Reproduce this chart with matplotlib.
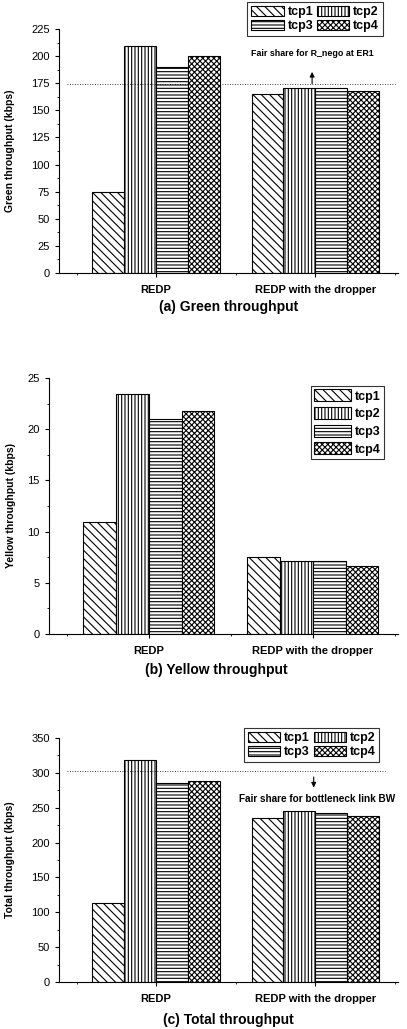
import matplotlib
matplotlib.use('Agg')
import matplotlib.pyplot as plt
import matplotlib.ticker as ticker
import numpy as np

plt.rcParams['font.family'] = ['Liberation Sans', 'DejaVu Sans']
plt.rcParams['hatch.linewidth'] = 0.8

# Data
categories = ['REDP', 'REDP with the dropper']
flows = ['tcp1', 'tcp2', 'tcp3', 'tcp4']

green_vals = [[75, 165], [209, 171], [190, 171], [200, 168]]
yellow_vals = [[10.9, 7.5], [23.4, 7.1], [21.0, 7.1], [21.8, 6.6]]
total_vals = [[113, 235], [319, 245], [285, 242], [289, 238]]

green_fair = 174
total_fair = 302

hatches = ['\\\\\\\\', '|||||', '-----', 'xxxxxx']

fig = plt.figure(figsize=(4.07, 10.29), dpi=100)

ax_a = fig.add_axes([0.145, 0.7347, 0.833, 0.2371])
ax_b = fig.add_axes([0.120, 0.3839, 0.858, 0.2488])
ax_c = fig.add_axes([0.145, 0.0457, 0.833, 0.2371])


def draw_bars(ax, vals, ymax, ystep, ylabel):
    x = np.arange(1, len(categories) + 1)
    w = 0.2
    bars = []
    for i, name in enumerate(flows):
        b = ax.bar(x - 0.3 + i * w, vals[i], width=w, color='white',
                   edgecolor='black', linewidth=0.8, hatch=hatches[i], label=name)
        bars.append(b)
    ax.set_xlim(0.39, 2.52)
    ax.set_ylim(0, ymax)
    ax.set_xticks(x)
    ax.set_xticklabels(categories, fontweight='bold', fontsize=7)
    ax.xaxis.set_minor_locator(ticker.FixedLocator([0.5, 1.5, 2.5]))
    ax.yaxis.set_major_locator(ticker.MultipleLocator(ystep))
    ax.yaxis.set_minor_locator(ticker.AutoMinorLocator(2))
    ax.tick_params(axis='both', which='major', labelsize=8, length=3, width=0.8)
    ax.tick_params(axis='x', which='major', pad=6)
    ax.tick_params(axis='both', which='minor', length=1.5, width=0.6)
    ax.spines['top'].set_visible(False)
    ax.spines['right'].set_visible(False)
    ax.set_ylabel(ylabel, fontweight='bold', fontsize=7.5)
    return bars


bars_a = draw_bars(ax_a, green_vals, 225, 25, 'Green throughput (kbps)')
bars_b = draw_bars(ax_b, yellow_vals, 25, 5, 'Yellow throughput (kbps)')
bars_c = draw_bars(ax_c, total_vals, 350, 50, 'Total throughput (kbps)')

ax_a.yaxis.set_label_coords(-0.13, 0.5)
ax_b.yaxis.set_label_coords(-0.095, 0.5)
ax_c.yaxis.set_label_coords(-0.13, 0.5)

# captions under each panel
ax_a.text(0.50, -0.14, '(a) Green throughput', transform=ax_a.transAxes,
          ha='center', va='center', fontsize=10, fontweight='bold')
ax_b.text(0.48, -0.14, '(b) Yellow throughput', transform=ax_b.transAxes,
          ha='center', va='center', fontsize=10, fontweight='bold')
ax_c.text(0.50, -0.156, '(c) Total throughput', transform=ax_c.transAxes,
          ha='center', va='center', fontsize=10, fontweight='bold')

# Fair share lines and annotations
ax_a.hlines(green_fair, 0.44, 2.5, colors='black', linestyles=(0, (1, 2)), linewidth=0.6)
ax_a.annotate('', xy=(1.98, 188), xytext=(1.98, 172),
              arrowprops=dict(arrowstyle='-|>', color='black', lw=0.8, mutation_scale=7))
ax_a.text(1.98, 202, 'Fair share for R_nego at ER1', ha='center', va='center',
          fontsize=6.4, fontweight='bold')

ax_c.hlines(total_fair, 0.44, 2.44, colors='black', linestyles=(0, (1, 2)), linewidth=0.6)
ax_c.annotate('', xy=(1.99, 275), xytext=(1.99, 298),
              arrowprops=dict(arrowstyle='-|>', color='black', lw=0.8, mutation_scale=7))
ax_c.text(2.01, 262, 'Fair share for bottleneck link BW', ha='center', va='center',
          fontsize=7.2, fontweight='bold')

# Legends (row-wise order for the two-column ones)
leg_kw = dict(frameon=True, fancybox=False, edgecolor='black',
              prop={'weight': 'bold', 'size': 9}, handlelength=2.6, handleheight=0.9,
              handletextpad=0.3, borderpad=0.3, labelspacing=0.1, columnspacing=0.3,
              borderaxespad=0)
order = [0, 2, 1, 3]
la = ax_a.legend([bars_a[i] for i in order], [flows[i] for i in order], ncol=2,
                 loc='upper right', bbox_to_anchor=(0.955, 1.11), **leg_kw)
lb = ax_b.legend(ncol=1, loc='upper right', bbox_to_anchor=(0.96, 0.97),
                 **{**leg_kw, 'labelspacing': 0.35, 'handlelength': 2.9, 'handleheight': 1.1})
lc = ax_c.legend([bars_c[i] for i in order], [flows[i] for i in order], ncol=2,
                 loc='upper right', bbox_to_anchor=(0.945, 1.04), **leg_kw)
for lg in (la, lb, lc):
    lg.get_frame().set_linewidth(0.8)

fig.savefig('out.png', dpi=100)
